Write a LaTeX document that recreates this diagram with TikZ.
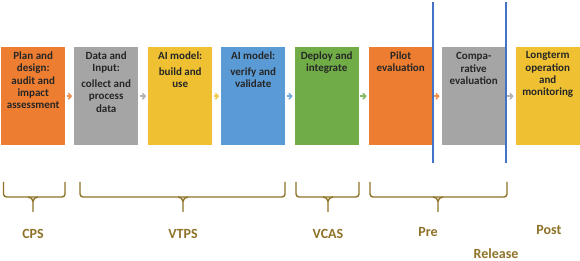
\documentclass[tikz,border=0pt]{standalone}
\usepackage{fontspec}
\setmainfont{Carlito}
\usetikzlibrary{arrows.meta}
\definecolor{cOrange}{HTML}{ED7D31}
\definecolor{cGrey}{HTML}{A5A5A5}
\definecolor{cYellow}{HTML}{EFC132}
\definecolor{cBlue}{HTML}{5B9BD5}
\definecolor{cGreen}{HTML}{70AD47}
\definecolor{cLine}{HTML}{4472C4}
\definecolor{cBrace}{HTML}{8E7227}
\definecolor{cText}{HTML}{262626}
\newcommand\boxtext[1]{\parbox[t][98pt][t]{64pt}{\centering\vspace*{4.5pt}\fontsize{11}{12.3}\selectfont\bfseries\color{cText}#1}}
\tikzset{
  stagebox/.style={rectangle, draw=none, inner sep=0pt, anchor=north west},
  flowarrow/.style={line width=1.5pt, -{Straight Barb[length=2.8pt,width=6pt]}, shorten <=1.2pt, shorten >=1.8pt},
  divider/.style={cLine, line width=1.6pt},
  bracestyle/.style={cBrace, line width=1.4pt, rounded corners=3pt},
  phaselabel/.style={text=cBrace, font=\fontsize{14}{16}\selectfont\bfseries, inner sep=0pt}
}
\begin{document}
\begin{tikzpicture}[x=1pt,y=-1pt]
\useasboundingbox (0,0) rectangle (580,261);
\node[stagebox, fill=cOrange] (b1) at (1,47) {\boxtext{Plan and\\design:\\audit and\\impact\\assessment}};
\node[stagebox, fill=cGrey] (b2) at (74,47) {\boxtext{Data and\\Input:\par\vspace{3.5pt}collect and\\process\\data}};
\node[stagebox, fill=cYellow] (b3) at (148,47) {\boxtext{AI model:\par\vspace{3.5pt}build and\\use}};
\node[stagebox, fill=cBlue] (b4) at (221,47) {\boxtext{AI model:\par\vspace{3.5pt}verify and\\validate}};
\node[stagebox, fill=cGreen] (b5) at (294.5,47) {\boxtext{Deploy and\\integrate}};
\node[stagebox, fill=cOrange] (b6) at (368.5,47) {\boxtext{Pilot\\evaluation}};
\node[stagebox, fill=cGrey] (b7) at (441.5,47) {\boxtext{\vspace*{1pt}Compa-\\rative\\evaluation}};
\node[stagebox, fill=cYellow] (b8) at (515.5,47) {\boxtext{Longterm\\operation\\and\\monitoring}};
\draw[flowarrow, cOrange!85] (b1) -- (b2);
\draw[flowarrow, cGrey!85] (b2) -- (b3);
\draw[flowarrow, cYellow!85] (b3) -- (b4);
\draw[flowarrow, cBlue!85] (b4) -- (b5);
\draw[flowarrow, cGreen!85] (b5) -- (b6);
\draw[flowarrow, cOrange!85] (b6) -- (b7);
\draw[flowarrow, cGrey!85] (b7) -- (b8);
\coordinate (d1t) at (433,2);
\coordinate (d1b) at (433,163);
\coordinate (d2t) at (506,2);
\coordinate (d2b) at (506,163);
\draw[divider] (d1t) -- (d1b);
\draw[divider] (d2t) -- (d2b);
% braces
\newcommand\gbrace[3]{%
  \draw[bracestyle] (#1,182) -- (#1,197) -- (#3,197);
  \draw[bracestyle] (#2,182) -- (#2,197) -- (#3,197);
  \draw[cBrace, line width=1.4pt] (#3-5,197) to[out=0,in=90] (#3,201.5) -- (#3,212);
  \draw[cBrace, line width=1.4pt] (#3+5,197) to[out=180,in=90] (#3,201.5);
}
\gbrace{3.5}{65}{33}
\gbrace{80}{285}{183}
\gbrace{296}{359}{328}
\gbrace{370}{507}{438}
\node[phaselabel] (l1) at (33,234) {CPS};
\node[phaselabel] (l2) at (183,234) {VTPS};
\node[phaselabel] (l3) at (328,234) {VCAS};
\node[phaselabel] (l4) at (428,232) {Pre};
\node[phaselabel] (l5) at (496,253.5) {Release};
\node[phaselabel] (l6) at (549,230) {Post};
\end{tikzpicture}
\end{document}
